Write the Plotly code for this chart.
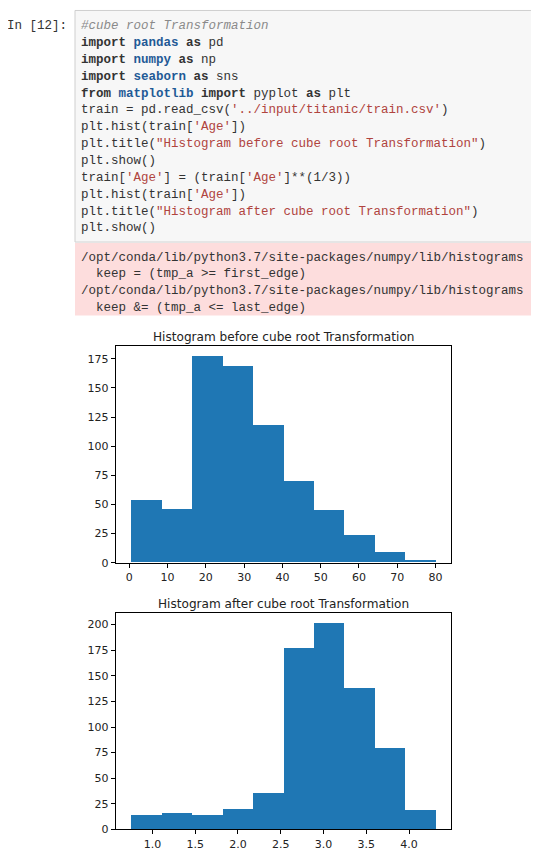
import plotly.graph_objects as go

# The page body has a default margin, so the figure is offset by it.
OFF = 8
W, H = 539 - OFF, 861 - 2 * OFF
DY = 4  # empirical vertical correction for the chart block

# ---- data ----
before_edges = [0.42, 8.378, 16.336, 24.294, 32.252, 40.21, 48.168, 56.126, 64.084, 72.042, 80.0]
before_counts = [54, 46, 177, 169, 118, 70, 45, 24, 9, 2]
before_yticks = [0, 25, 50, 75, 100, 125, 150, 175]
before_xticks = [0, 10, 20, 30, 40, 50, 60, 70, 80]

after_edges = [0.7489, 1.1049, 1.4609, 1.8169, 2.1729, 2.5289, 2.8849, 3.2409, 3.5969, 3.9529, 4.3089]
after_counts = [14, 16, 14, 20, 35, 177, 201, 138, 79, 19]
after_yticks = [0, 25, 50, 75, 100, 125, 150, 175, 200]
after_xticks = [1.0, 1.5, 2.0, 2.5, 3.0, 3.5, 4.0]

title_before = "Histogram before cube root Transformation"
title_after = "Histogram after cube root Transformation"

# ---- helpers (page pixel -> paper coords) ----
def px(x):
    return (x - OFF) / W

def py(y):
    return 1 - (y - OFF) / H

KW = "<span style='color:#333333'><b>{}</b></span>"
MOD = "<span style='color:#1f5a96'><b>{}</b></span>"
STR = "<span style='color:#b0443e'>{}</span>"
CMT = "<span style='color:#8a8a8a'><i>{}</i></span>"
TXT = "<span style='color:#333333'>{}</span>"

def sp(s):
    return s.replace(" ", "\u00a0")

code_lines = [
    CMT.format(sp("#cube root Transformation")),
    KW.format("import") + TXT.format(sp(" ")) + MOD.format("pandas") + TXT.format(sp(" ")) + KW.format("as") + TXT.format(sp(" pd")),
    KW.format("import") + TXT.format(sp(" ")) + MOD.format("numpy") + TXT.format(sp(" ")) + KW.format("as") + TXT.format(sp(" np")),
    KW.format("import") + TXT.format(sp(" ")) + MOD.format("seaborn") + TXT.format(sp(" ")) + KW.format("as") + TXT.format(sp(" sns")),
    KW.format("from") + TXT.format(sp(" ")) + MOD.format("matplotlib") + TXT.format(sp(" ")) + KW.format("import") + TXT.format(sp(" pyplot ")) + KW.format("as") + TXT.format(sp(" plt")),
    TXT.format(sp("train = pd.read_csv(")) + STR.format("'../input/titanic/train.csv'") + TXT.format(")"),
    TXT.format("plt.hist(train[") + STR.format("'Age'") + TXT.format("])"),
    TXT.format("plt.title(") + STR.format(sp('"Histogram before cube root Transformation"')) + TXT.format(")"),
    TXT.format("plt.show()"),
    TXT.format("train[") + STR.format("'Age'") + TXT.format(sp("] = (train[")) + STR.format("'Age'") + TXT.format("]**(1/3))"),
    TXT.format("plt.hist(train[") + STR.format("'Age'") + TXT.format("])"),
    TXT.format("plt.title(") + STR.format(sp('"Histogram after cube root Transformation"')) + TXT.format(")"),
    TXT.format("plt.show()"),
]

err_lines = [
    "/opt/conda/lib/python3.7/site-packages/numpy/lib/histograms",
    sp("  keep = (tmp_a &gt;= first_edge)"),
    "/opt/conda/lib/python3.7/site-packages/numpy/lib/histograms",
    sp("  keep &amp;= (tmp_a &lt;= last_edge)"),
]

MONO = "Liberation Mono"
BLUE = "#1f77b4"

fig = go.Figure()

def add_hist(edges, counts, xa, ya):
    centers = [(edges[i] + edges[i + 1]) / 2 for i in range(len(counts))]
    widths = [edges[i + 1] - edges[i] for i in range(len(counts))]
    fig.add_trace(go.Bar(
        x=centers, y=counts, width=widths,
        marker=dict(color=BLUE, line=dict(width=0)),
        xaxis=xa, yaxis=ya, showlegend=False, hoverinfo="x+y",
    ))

add_hist(before_edges, before_counts, "x", "y")
add_hist(after_edges, after_counts, "x2", "y2")

def lims(edges, counts):
    span = edges[-1] - edges[0]
    return [edges[0] - 0.05 * span, edges[-1] + 0.05 * span], [0, max(counts) * 1.05]

bx, by = lims(before_edges, before_counts)
ax_, ay = lims(after_edges, after_counts)

axis_common = dict(
    showline=True, mirror=True, linecolor="#000000", linewidth=1,
    ticks="outside", ticklen=4, tickwidth=1, tickcolor="#000000",
    showgrid=False, zeroline=False, fixedrange=True,
    tickfont=dict(family="DejaVu Sans", size=11, color="#222222"),
)

dom_x = [px(115.7), px(450.7)]

fig.update_layout(
    width=W, height=H,
    margin=dict(l=0, r=0, t=0, b=0),
    paper_bgcolor="#ffffff", plot_bgcolor="#ffffff",
    bargap=0,
    xaxis=dict(domain=dom_x, anchor="y", range=bx, tickvals=before_xticks, **axis_common),
    yaxis=dict(domain=[py(563.3 + DY), py(345 + DY)], anchor="x", range=by, tickvals=before_yticks, **axis_common),
    xaxis2=dict(domain=dom_x, anchor="y2", range=ax_, tickvals=after_xticks, tickformat=".1f", **axis_common),
    yaxis2=dict(domain=[py(832.3 + DY), py(614.3 + DY)], anchor="x2", range=ay, tickvals=after_yticks, **axis_common),
)

shapes = [
    # code cell box
    dict(type="rect", xref="paper", yref="paper",
         x0=px(75), x1=px(560), y0=py(244), y1=py(10.5),
         fillcolor="#f7f7f7", line=dict(color="#cfcfcf", width=1), layer="below"),
    # stderr output
    dict(type="rect", xref="paper", yref="paper",
         x0=px(75), x1=px(560), y0=py(318), y1=py(245),
         fillcolor="#fddddd", line=dict(width=0), layer="below"),
]
fig.update_layout(shapes=shapes)

TX = 78.5  # annotation left pad compensation
TY = 2     # text vertical correction

annotations = []
annotations.append(dict(
    text="In\u00a0[12]:", x=px(69), y=py(24.3 + TY), xref="paper", yref="paper",
    xanchor="right", yanchor="middle", showarrow=False,
    font=dict(family=MONO, size=12.5, color="#333333"),
))
for i, line in enumerate(code_lines):
    annotations.append(dict(
        text=line, x=px(TX), y=py(24.3 + TY + 17.0 * i), xref="paper", yref="paper",
        xanchor="left", yanchor="middle", showarrow=False,
        font=dict(family=MONO, size=12.5, color="#333333"),
    ))
for i, line in enumerate(err_lines):
    annotations.append(dict(
        text=line, x=px(TX), y=py(257.7 + TY + 16.9 * i), xref="paper", yref="paper",
        xanchor="left", yanchor="middle", showarrow=False,
        font=dict(family=MONO, size=12.5, color="#333333"),
    ))
annotations.append(dict(
    text=title_before, x=(dom_x[0] + dom_x[1]) / 2, y=py(335.7 + DY), xref="paper", yref="paper",
    xanchor="center", yanchor="middle", showarrow=False,
    font=dict(family="DejaVu Sans", size=12.1, color="#222222"),
))
annotations.append(dict(
    text=title_after, x=(dom_x[0] + dom_x[1]) / 2, y=py(605 + DY), xref="paper", yref="paper",
    xanchor="center", yanchor="middle", showarrow=False,
    font=dict(family="DejaVu Sans", size=12.1, color="#222222"),
))
fig.update_layout(annotations=annotations)

fig.write_html("out.html", config={"displayModeBar": False})
